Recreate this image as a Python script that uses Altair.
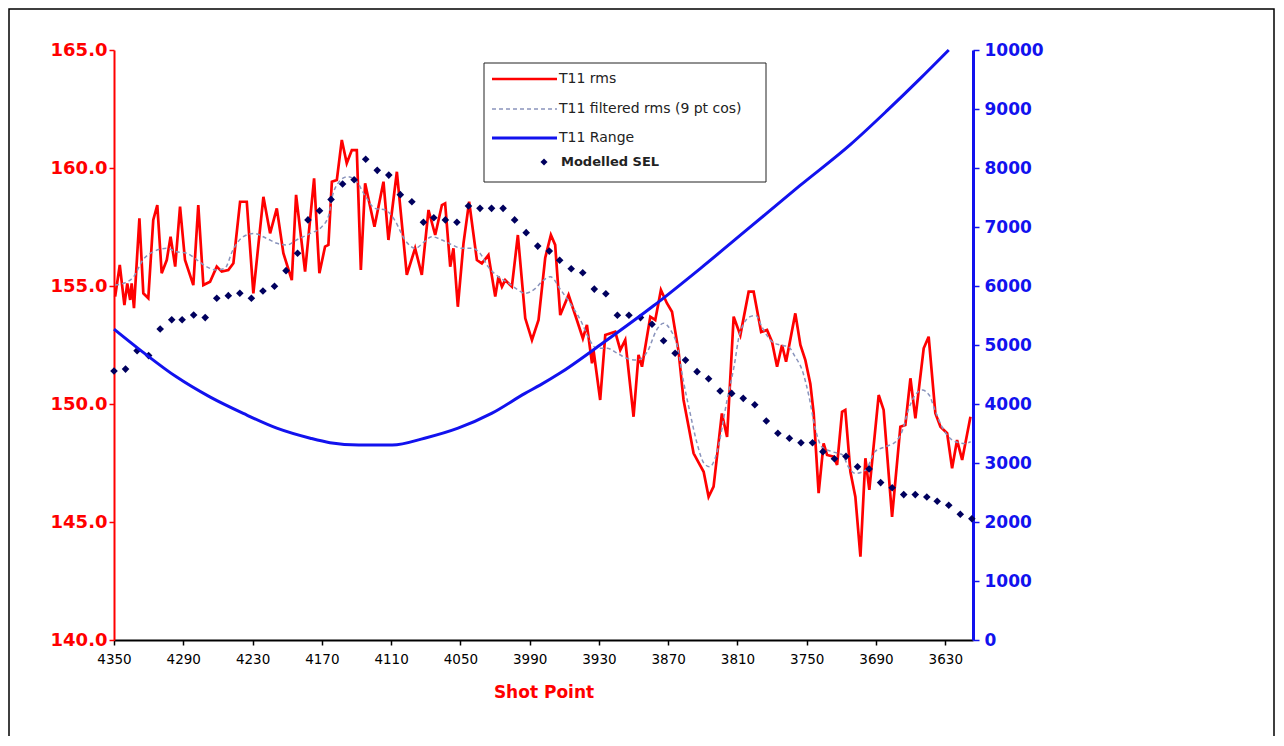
import altair as alt
import pandas as pd

# ---------------- data ----------------
rms_sp = [4349, 4345, 4341, 4338.5, 4336, 4334.7, 4332.7, 4328, 4324.6, 4320.3, 4316, 4312.5,
          4308.7, 4304.3, 4301, 4297, 4292.8, 4288.5, 4281.3, 4277, 4272.6, 4266.8, 4261, 4256.7,
          4251, 4246.6, 4240.8, 4235, 4229.3, 4220.6, 4214.8, 4209, 4203.3, 4196, 4192.3, 4184.5,
          4176.7, 4172.1, 4167.2, 4164.3, 4161.3, 4157, 4152.7, 4148.4, 4144, 4139.7, 4136.2,
          4132.5, 4124.4, 4116.6, 4112.3, 4105, 4096.4, 4089.2, 4083.4, 4077.6, 4071.8, 4066,
          4063.2, 4058.8, 4056, 4052.2, 4047.3, 4042.4, 4035.7, 4031.4, 4025.7, 4019.8, 4017,
          4014, 4011.2, 4005.4, 4000.2, 3993.8, 3988, 3982.3, 3976.5, 3971.6, 3967.9, 3963.5,
          3956.3, 3949.1, 3943.9, 3940.4, 3936, 3934.7, 3928.9, 3924.5, 3915.9, 3911.5, 3907.2,
          3900, 3895.7, 3892.7, 3885.5, 3881.2, 3876.3, 3871.1, 3866.7, 3861, 3856.7, 3852.3,
          3848, 3839.3, 3835, 3830.7, 3823.5, 3819, 3813.3, 3807.5, 3800.3, 3796, 3789.5,
          3784.4, 3780.1, 3775.7, 3771.4, 3767.9, 3759.9, 3755.5, 3751.2, 3746.9, 3744, 3739.7,
          3735.4, 3732.4, 3726.7, 3723.7, 3719.4, 3716.6, 3712.2, 3707.9, 3703.5, 3699.2, 3695.8,
          3687.7, 3683.4, 3676.1, 3668.9, 3664.6, 3660.2, 3655.9, 3648.7, 3644.4, 3638.6, 3634.2,
          3628.4, 3624.1, 3619.8, 3615.4, 3608.2]
rms_val = [154.55, 155.89, 154.19, 155.11, 154.41, 155.11, 154.06, 157.87, 154.69, 154.48, 157.80, 158.43,
           155.54, 156.10, 157.09, 155.82, 158.36, 156.10, 155.04, 158.43, 155.04, 155.18, 155.82, 155.61,
           155.68, 155.96, 158.57, 158.57, 154.69, 158.78, 157.23, 158.29, 156.39, 155.25, 158.86, 155.61,
           159.56, 155.54, 156.67, 156.74, 159.42, 159.49, 161.19, 160.20, 160.76, 160.76, 155.68,
           159.35, 157.51, 159.42, 156.95, 159.84, 155.47, 156.60, 155.47, 158.22, 157.16, 158.43,
           158.50, 155.82, 156.60, 154.12, 156.81, 158.57, 156.10, 155.96, 156.31, 154.55, 155.39,
           154.97, 155.25, 154.97, 157.16, 153.63, 152.71, 153.56, 156.20, 157.16, 156.74, 153.77,
           154.62, 153.56, 152.78, 153.35, 151.72, 152.29, 150.17, 152.92, 153.06, 152.29, 152.71,
           149.46, 152.08, 151.58, 153.70, 153.56, 154.83, 154.27, 153.91, 152.22, 150.17, 149.04,
           147.91, 147.13, 146.07, 146.50, 149.60, 148.60, 153.70, 152.92, 154.76, 154.76, 153.05,
           153.14, 152.64, 151.58, 152.50, 151.79, 153.84, 152.50, 151.86, 150.86, 149.61, 146.22,
           148.33, 147.84, 147.77, 147.42, 149.67, 149.75, 147.13, 146.07, 143.53, 147.70, 146.36,
           150.38, 149.75, 145.22, 149.04, 149.11, 151.09, 149.39, 152.36, 152.85, 149.61, 149.04,
           148.76, 147.28, 148.47, 147.63, 149.46]

filt_sp = [4349, 4342, 4333, 4325, 4316, 4304, 4296, 4287, 4278, 4270, 4261, 4254, 4247, 4238, 4229,
           4218, 4209, 4200, 4192, 4180, 4170, 4164, 4161, 4156, 4148, 4141, 4132, 4124, 4115, 4107,
           4098, 4089, 4081, 4075, 4066, 4057, 4049, 4040, 4033, 4026, 4017, 4008, 4000, 3994, 3985,
           3979, 3972, 3963, 3955, 3946, 3938, 3932, 3923, 3914, 3906, 3897, 3888, 3880, 3874, 3868,
           3862, 3857, 3851, 3845, 3839, 3834, 3828, 3819, 3813, 3808, 3799, 3794, 3789, 3780, 3773,
           3766, 3760, 3754, 3748, 3743, 3737, 3728, 3719, 3714, 3708, 3699, 3691, 3682, 3673, 3667,
           3662, 3656, 3650, 3644, 3639, 3633, 3627, 3621, 3613, 3608]
filt_val = [155.04, 155.11, 155.39, 156.10, 156.45, 156.60, 156.45, 156.39, 156.10, 155.82, 155.68,
            155.75, 156.53, 157.09, 157.23, 157.02, 156.81, 156.74, 156.95, 157.23, 157.51, 158.00,
            158.78, 159.35, 159.63, 159.49, 158.78, 158.29, 158.22, 157.80, 156.95, 156.60, 156.88,
            157.09, 156.95, 156.74, 156.60, 156.60, 156.39, 155.82, 155.39, 155.11, 154.83, 154.69,
            154.90, 155.20, 155.39, 154.83, 154.27, 153.56, 152.71, 152.36, 152.36, 152.15, 151.94,
            151.86, 152.22, 153.14, 153.42, 153.14, 152.43, 151.02, 149.61, 148.33, 147.49, 147.34,
            147.91, 150.17, 151.58, 152.99, 153.70, 153.75, 153.28, 152.64, 152.50, 152.43, 152.00,
            151.44, 150.31, 149.04, 148.19, 147.98, 147.84, 147.34, 147.06, 147.20, 147.98, 148.19,
            148.40, 148.90, 149.75, 150.38, 150.59, 150.38, 149.75, 149.04, 148.61, 148.40, 148.33,
            148.40]

sel_sp = [4350, 4340, 4330, 4320, 4310, 4300, 4291, 4281, 4271, 4261, 4251, 4241, 4231, 4221, 4211,
          4201, 4191, 4182, 4172, 4162, 4152, 4142, 4132, 4122, 4112, 4102, 4092, 4082, 4073, 4063,
          4053, 4043, 4033, 4023, 4013, 4003, 3993, 3983, 3973, 3964, 3954, 3944, 3934, 3924, 3914,
          3904, 3894, 3884, 3874, 3864, 3855, 3845, 3835, 3825, 3815, 3805, 3795, 3785, 3775, 3765,
          3755, 3745, 3736, 3726, 3716, 3706, 3696, 3686, 3676, 3666, 3656, 3646, 3637, 3627, 3617,
          3607]
sel_val = [151.40, 151.48, 152.26, 152.05, 153.18, 153.57, 153.57, 153.77, 153.66, 154.48, 154.59,
           154.69, 154.48, 154.79, 154.99, 155.65, 156.39, 157.80, 158.19, 158.67, 159.32, 159.50,
           160.37, 159.90, 159.70, 158.87, 158.57, 157.70, 157.89, 157.80, 157.70, 158.39, 158.29,
           158.29, 158.29, 157.80, 157.26, 156.69, 156.48, 156.09, 155.73, 155.56, 154.87, 154.67,
           153.76, 153.76, 153.66, 153.38, 152.68, 152.15, 151.86, 151.37, 151.07, 150.55, 150.45,
           150.24, 149.97, 149.28, 148.76, 148.55, 148.36, 148.36, 147.98, 147.68, 147.78, 147.34,
           147.25, 146.67, 146.45, 146.16, 146.16, 146.06, 145.88, 145.71, 145.33, 145.14]

range_sp = [4350, 4325, 4296, 4267, 4238, 4209, 4180, 4163, 4138, 4109, 4081, 4052, 4023, 3994,
            3981, 3964, 3929, 3883, 3842, 3802, 3756, 3712, 3680, 3652, 3627]
range_val = [5270, 4880, 4460, 4120, 3840, 3590, 3420, 3345, 3305, 3305, 3420, 3590, 3840, 4180,
             4320, 4520, 5000, 5660, 6300, 6950, 7700, 8400, 8980, 9510, 10000]

x_ticks = [4350, 4290, 4230, 4170, 4110, 4050, 3990, 3930, 3870, 3810, 3750, 3690, 3630]
left_ticks = [140, 145, 150, 155, 160, 165]
right_ticks = [0, 1000, 2000, 3000, 4000, 5000, 6000, 7000, 8000, 9000, 10000]
legend_labels = ["T11 rms", "T11 filtered rms (9 pt cos)", "T11 Range", "Modelled SEL"]
x_title = "Shot Point"

# ---------------- chart ----------------
FONT = "DejaVu Sans"
RED = "#ff0000"
BLUE = "#1212ee"
NAVY = "#00005e"
GREY = "#8a94bc"
W, H = 859, 590

df_rms = pd.DataFrame({"sp": rms_sp, "val": rms_val})
df_filt = pd.DataFrame({"sp": filt_sp, "val": filt_val})
df_sel = pd.DataFrame({"sp": sel_sp, "val": sel_val})
df_rng = pd.DataFrame({"sp": range_sp, "rng": range_val})

xscale = alt.Scale(domain=[3606, 4350], reverse=True, nice=False, zero=False)
x_axis = alt.Axis(values=x_ticks, format="d", title=x_title, grid=False,
                  domainColor="black", domainWidth=2, tickColor="black", tickSize=5, tickWidth=1.5,
                  labelColor="black", labelFont=FONT, labelFontSize=13.5, labelPadding=7,
                  labelFlush=False, labelOverlap=False,
                  titleColor=RED, titleFont=FONT, titleFontSize=17, titleFontWeight="bold",
                  titlePadding=19)
yl_scale = alt.Scale(domain=[140, 165], nice=False, zero=False)
yl_axis = alt.Axis(orient="left", values=left_ticks, format=".1f", title=None, grid=False,
                   domainColor=RED, domainWidth=2, tickColor=RED, tickSize=5, tickWidth=1.5,
                   labelColor=RED, labelFont=FONT, labelFontSize=18, labelFontWeight="bold",
                   labelPadding=2, labelOverlap=False)
yr_scale = alt.Scale(domain=[0, 10000], nice=False, zero=False)
yr_axis = alt.Axis(orient="right", values=right_ticks, format="d", title=None, grid=False,
                   domainColor=BLUE, domainWidth=3, tickColor=BLUE, tickSize=6, tickWidth=1.5,
                   labelColor=BLUE, labelFont=FONT, labelFontSize=17, labelFontWeight="bold",
                   labelPadding=5, labelOverlap=False)

X = alt.X("sp:Q", scale=xscale, axis=x_axis)
YL = alt.Y("val:Q", scale=yl_scale, axis=yl_axis)

red = alt.Chart(df_rms).mark_line(color=RED, strokeWidth=2.7).encode(x=X, y=YL)
grey = alt.Chart(df_filt).mark_line(color=GREY, strokeWidth=1.5, strokeDash=[4, 3],
                                    interpolate="monotone").encode(x=X, y=YL)
sel = alt.Chart(df_sel).mark_point(shape="diamond", filled=True, size=58, color=NAVY,
                                   opacity=1).encode(x=X, y=YL)
left = alt.layer(red, grey, sel)

rng = alt.Chart(df_rng).mark_line(color=BLUE, strokeWidth=3, interpolate="monotone").encode(
    x=X, y=alt.Y("rng:Q", scale=yr_scale, axis=yr_axis))

dummy = pd.DataFrame({"a": [0]})

frame = alt.Chart(dummy).mark_rect(filled=False, stroke="black", strokeWidth=1.5).encode(
    x=alt.value(-105), x2=alt.value(1160), y=alt.value(-41), y2=alt.value(760))

box = alt.Chart(dummy).mark_rect(fill="white", stroke="#222222", strokeWidth=1).encode(
    x=alt.value(370), x2=alt.value(652), y=alt.value(13), y2=alt.value(132))
leg_red = alt.Chart(dummy).mark_rule(color=RED, strokeWidth=2.7).encode(
    x=alt.value(378), x2=alt.value(443), y=alt.value(29))
leg_grey = alt.Chart(dummy).mark_rule(color=GREY, strokeWidth=1.5, strokeDash=[4, 3]).encode(
    x=alt.value(378), x2=alt.value(443), y=alt.value(59))
leg_blue = alt.Chart(dummy).mark_rule(color=BLUE, strokeWidth=3).encode(
    x=alt.value(378), x2=alt.value(443), y=alt.value(88))
leg_dia = alt.Chart(dummy).mark_point(shape="diamond", filled=True, size=50, color=NAVY,
                                      opacity=1).encode(x=alt.value(430), y=alt.value(112))


def leg_text(label, xpos, ypos, weight="normal", size=14):
    return alt.Chart(dummy).mark_text(align="left", baseline="middle", font=FONT, fontSize=size,
                                      fontWeight=weight, color="#222222").encode(
        x=alt.value(xpos), y=alt.value(ypos), text=alt.value(label))


legend = [box, leg_red, leg_grey, leg_blue, leg_dia,
          leg_text(legend_labels[0], 445, 29),
          leg_text(legend_labels[1], 445, 59),
          leg_text(legend_labels[2], 445, 88),
          leg_text(legend_labels[3], 447, 112, "bold", 13)]

chart = alt.layer(left, rng, frame, *legend).resolve_scale(y="independent").properties(
    width=W, height=H,
    autosize=alt.AutoSizeParams(type="none"),
    padding={"left": 106, "top": 42, "right": 303, "bottom": 96},
    background="white",
).configure_view(stroke="transparent")

chart.save("out.html", embed_options={"renderer": "svg", "actions": False})
